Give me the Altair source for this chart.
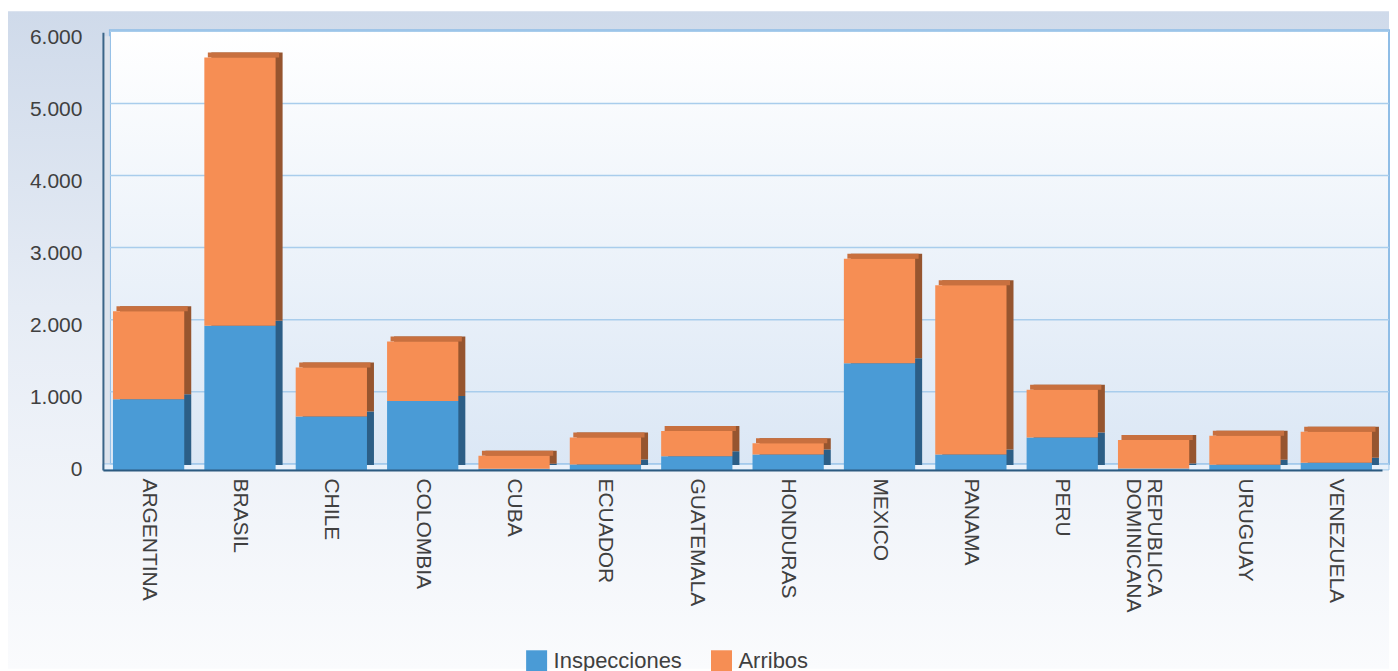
import altair as alt
import pandas as pd

countries = ["ARGENTINA", "BRASIL", "CHILE", "COLOMBIA", "CUBA", "ECUADOR", "GUATEMALA",
             "HONDURAS", "MEXICO", "PANAMA", "PERU", "REPUBLICA DOMINICANA", "URUGUAY", "VENEZUELA"]
inspecciones = [980, 2000, 740, 955, 15, 75, 190, 215, 1480, 215, 450, 20, 70, 100]
arribos = [1220, 3720, 680, 825, 180, 375, 350, 155, 1450, 2345, 660, 395, 405, 430]
series = ["Inspecciones", "Arribos"]
y_ticks = [0, 1000, 2000, 3000, 4000, 5000, 6000]

front_colors = ["#4a9bd6", "#f68e54"]
side_colors = ["#2c5e86", "#96552f"]
top_color = "#c8703f"

rows = []
for i, c in enumerate(countries):
    rows.append({"pais": c, "serie": series[0], "valor": inspecciones[i], "orden": 0})
    rows.append({"pais": c, "serie": series[1], "valor": arribos[i], "orden": 1})
df = pd.DataFrame(rows)
totals = pd.DataFrame({"pais": countries, "total": [a + b for a, b in zip(inspecciones, arribos)]})
grid_df = pd.DataFrame({"v": y_ticks})
one = pd.DataFrame({"a": [0]})

W, H = 1280, 438
FONT = "Liberation Sans"

xscale = alt.Scale(domain=countries, paddingInner=0.22, paddingOuter=0.11)
yscale = alt.Scale(domain=[0, 6070], nice=False, zero=True)

x_axis = alt.Axis(labelAngle=90, labelAlign="left", labelBaseline="middle",
                  labelPadding=8, ticks=False, tickSize=0, grid=False,
                  labelFont=FONT, labelFontSize=21, labelColor="#404040",
                  labelLineHeight=21,
                  labelExpr="datum.value == 'REPUBLICA DOMINICANA' ? ['REPUBLICA', 'DOMINICANA'] : datum.value",
                  domainColor="#2c5a80", domainWidth=2, zindex=2)
y_axis = alt.Axis(values=y_ticks, grid=False, ticks=False, tickSize=0,
                  labelPadding=21, labelFont=FONT, labelFontSize=21,
                  labelColor="#404040",
                  labelExpr="replace(format(datum.value, ','), ',', '.')",
                  domainColor="#3b6588", domainWidth=2, zindex=2)

def X(field="pais:N"):
    return alt.X(field, scale=xscale, sort=countries, title=None, axis=x_axis)

def Y(field, **kw):
    return alt.Y(field, scale=yscale, title=None, axis=y_axis, **kw)

# background panel (whole chart)
bg = alt.Chart(one).mark_rect(
    color=alt.LinearGradient(
        gradient="linear", x1=0, x2=0, y1=0, y2=1,
        stops=[alt.GradientStop(color="#cfdaea", offset=0),
               alt.GradientStop(color="#e6ecf5", offset=0.45),
               alt.GradientStop(color="#fafbfd", offset=1)])
).encode(x=alt.value(-95), x2=alt.value(1287), y=alt.value(-21), y2=alt.value(637))

back_wall = alt.Chart(one).mark_rect(
    color=alt.LinearGradient(
        gradient="linear", x1=0, x2=0, y1=0, y2=1,
        stops=[alt.GradientStop(color="#ffffff", offset=0),
               alt.GradientStop(color="#dbe7f5", offset=1)]),
    stroke="#8fbde6", strokeWidth=2
).encode(x=alt.value(7), x2=alt.value(1287), y=alt.value(-2), y2=alt.value(432))

left_wall = alt.Chart(one).mark_rect(color="#dde3ec").encode(
    x=alt.value(0), x2=alt.value(7), y=alt.value(4), y2=alt.value(438))

floor = alt.Chart(one).mark_rect(color="#e9f1fa", stroke="#9cc6ea", strokeWidth=1).encode(
    x=alt.value(0), x2=alt.value(1287), y=alt.value(432), y2=alt.value(438))

grid = alt.Chart(grid_df).mark_rule(color="#a9cdec", strokeWidth=1.5, yOffset=-6).encode(
    y=Y("v:Q"),
    x=alt.value(7), x2=alt.value(1287))

side = alt.Chart(df).mark_bar(xOffset=7, yOffset=-5, y2Offset=-5).encode(
    x=X(),
    y=Y("valor:Q", stack="zero"),
    color=alt.Color("serie:N", scale=alt.Scale(domain=series, range=side_colors), legend=None),
    order=alt.Order("orden:Q"))

top = alt.Chart(totals).mark_bar(color=top_color, xOffset=3.5, yOffset=-5).encode(
    x=X(),
    y=Y("total:Q"),
    y2=alt.Y2("total:Q"))

front = alt.Chart(df).mark_bar().encode(
    x=X(),
    y=Y("valor:Q", stack="zero"),
    color=alt.Color("serie:N", scale=alt.Scale(domain=series, range=front_colors),
                    legend=alt.Legend(title=None, orient="none", legendX=423, legendY=618,
                                      direction="horizontal", symbolType="square",
                                      symbolSize=441, symbolStrokeWidth=0,
                                      labelFont=FONT, labelFontSize=22, labelColor="#404040",
                                      labelOffset=6, columnPadding=28, padding=0, zindex=2)),
    order=alt.Order("orden:Q"))

chart = alt.layer(bg, back_wall, left_wall, floor, grid, side, top, front).resolve_scale(
    color="independent"
).properties(
    width=W, height=H,
    padding={"left": 0, "top": 3, "right": 0, "bottom": 0}
).configure_view(stroke=None).configure_axis(zindex=2)

chart.save("out.html", embed_options={"renderer": "svg", "actions": False})
